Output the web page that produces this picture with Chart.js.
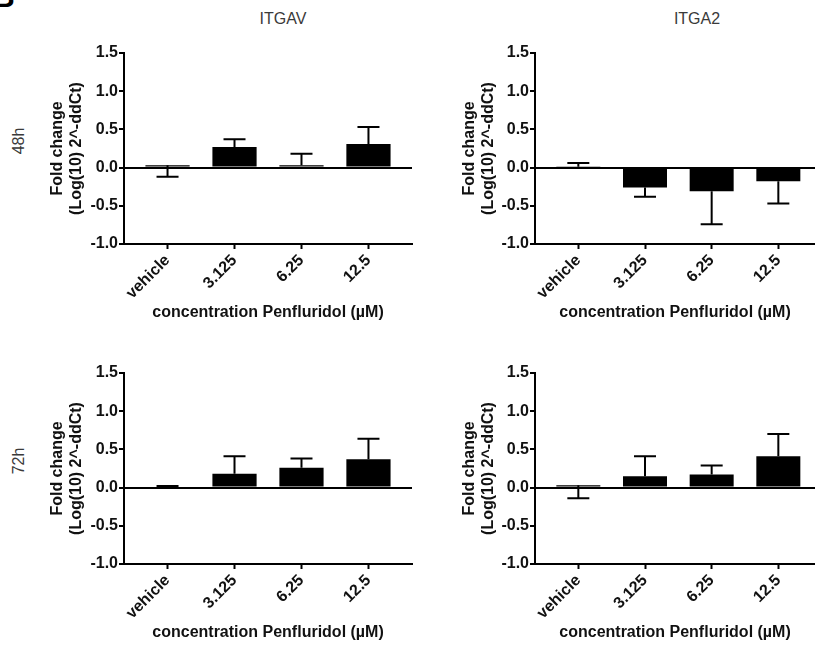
<!DOCTYPE html>
<html>
<head>
<meta charset="utf-8">
<script src="https://cdn.jsdelivr.net/npm/chart.js@4.4.1/dist/chart.umd.min.js"></script>
<style>
  body { margin: 0; background: #fff; width: 815px; height: 645px; position: relative; overflow: hidden; font-family: "Liberation Sans", Arial, sans-serif; }
  canvas { position: absolute; }
  .lbl { position: absolute; color: #3a3a3a; font-size: 16px; transform: translate(-50%, -50%); white-space: nowrap; }
  .row { transform: translate(-50%, -50%) rotate(-90deg); }
</style>
</head>
<body>
<div class="lbl" style="left:-7px; top:-18px; transform:none; font-weight:bold; font-size:30px; line-height:30px; color:#000">B</div>
<div class="lbl" style="left:283px; top:19px">ITGAV</div>
<div class="lbl" style="left:697px; top:19px">ITGA2</div>
<div class="lbl row" style="left:19px; top:141px">48h</div>
<div class="lbl row" style="left:19px; top:461px">72h</div>

<canvas id="tl" width="425" height="322" style="left:0; top:0"></canvas>
<canvas id="tr" width="390" height="322" style="left:425px; top:0"></canvas>
<canvas id="bl" width="425" height="322" style="left:0; top:320px"></canvas>
<canvas id="br" width="390" height="322" style="left:425px; top:320px"></canvas>

<script>
'use strict';

const concentrations = ['vehicle', '3.125', '6.25', '12.5'];
const yTicks = [-1.0, -0.5, 0.0, 0.5, 1.0, 1.5];

// mean bar heights and where each error bar ends
const itgav48 = [0.03, 0.27, 0.03, 0.31];
const itgav48End = [-0.12, 0.37, 0.18, 0.53];
const itga248 = [0.01, -0.26, -0.31, -0.18];
const itga248End = [0.06, -0.38, -0.74, -0.47];
const itgav72 = [0.0, 0.18, 0.26, 0.37];
const itgav72End = [0.02, 0.41, 0.38, 0.64];
const itga272 = [0.03, 0.15, 0.17, 0.41];
const itga272End = [-0.14, 0.41, 0.29, 0.70];

const errorBars = {
    id: 'errorBars',
    afterDatasetsDraw(chart, args, opts) {
        const {ctx, scales: {x, y}} = chart;
        const data = chart.data.datasets[0].data;
        ctx.save();
        ctx.strokeStyle = '#000';
        ctx.lineWidth = 2;
        opts.ends.forEach((end, i) => {
            const px = x.getPixelForValue(i);
            const y0 = y.getPixelForValue(data[i].y);
            const y1 = y.getPixelForValue(end);
            if (Math.abs(y1 - y0) < 1) return;
            ctx.beginPath();
            ctx.moveTo(px, y0);
            ctx.lineTo(px, y1);
            ctx.moveTo(px - 11, y1);
            ctx.lineTo(px + 11, y1);
            ctx.stroke();
        });
        ctx.restore();
    }
};

function makePanel(id, values, ends, opt) {
    const family = '"Liberation Sans", Arial, sans-serif';
    const tickFont = {family: family, size: 16, weight: 'bold'};
    const titleFont = {family: family, size: 16, weight: 'bold', lineHeight: 1.2};
    return new Chart(document.getElementById(id), {
        type: 'bar',
        data: {
            datasets: [{
                data: values.map((v, i) => ({x: i, y: v})),
                backgroundColor: '#000',
                borderColor: '#000',
                borderWidth: 0,
                categoryPercentage: 1,
                barPercentage: 0.66
            }]
        },
        options: {
            responsive: false,
            animation: false,
            devicePixelRatio: 1,
            layout: {padding: {top: 53, right: opt.rightPad, left: 0, bottom: 0}},
            plugins: {
                legend: {display: false},
                tooltip: {enabled: false},
                errorBars: {ends: ends}
            },
            scales: {
                x: {
                    type: 'linear',
                    offset: false,
                    min: -0.65,
                    max: opt.xMax,
                    afterBuildTicks: s => { s.ticks = concentrations.map((c, i) => ({value: i})); },
                    afterFit: s => { s.height = 78; },
                    ticks: {
                        callback: v => concentrations[v],
                        minRotation: 45,
                        maxRotation: 45,
                        autoSkip: false,
                        color: '#111',
                        font: tickFont,
                        padding: 2
                    },
                    grid: {offset: false, drawOnChartArea: false, tickLength: 5, tickColor: '#000', tickWidth: 2},
                    border: {color: '#000', width: 2},
                    title: {
                        display: true,
                        text: 'concentration Penfluridol (µM)',
                        color: '#111',
                        font: titleFont,
                        padding: {top: 0, bottom: 0}
                    }
                },
                y: {
                    min: -1,
                    max: 1.5,
                    afterBuildTicks: s => { s.ticks = yTicks.map(v => ({value: v})); },
                    afterFit: s => { s.width = opt.yWidth; },
                    ticks: {
                        callback: v => v.toFixed(1),
                        color: '#111',
                        font: tickFont,
                        padding: 1
                    },
                    grid: {
                        color: c => (c.tick && c.tick.value === 0) ? '#000' : 'rgba(0,0,0,0)',
                        lineWidth: 2,
                        tickColor: '#000',
                        tickLength: 5,
                        tickWidth: 2
                    },
                    border: {color: '#000', width: 2},
                    title: {
                        display: true,
                        text: ['Fold change', '(Log(10) 2^-ddCt)'],
                        color: '#111',
                        font: titleFont,
                        padding: {top: opt.titlePad, bottom: 0}
                    }
                }
            }
        },
        plugins: [errorBars]
    });
}

const leftSide = {rightPad: 13, xMax: 3.65, yWidth: 124, titlePad: 48};
const rightSide = {rightPad: 0, xMax: 3.55, yWidth: 110, titlePad: 35};

makePanel('tl', itgav48, itgav48End, leftSide);
makePanel('tr', itga248, itga248End, rightSide);
makePanel('bl', itgav72, itgav72End, leftSide);
makePanel('br', itga272, itga272End, rightSide);
</script>
</body>
</html>
